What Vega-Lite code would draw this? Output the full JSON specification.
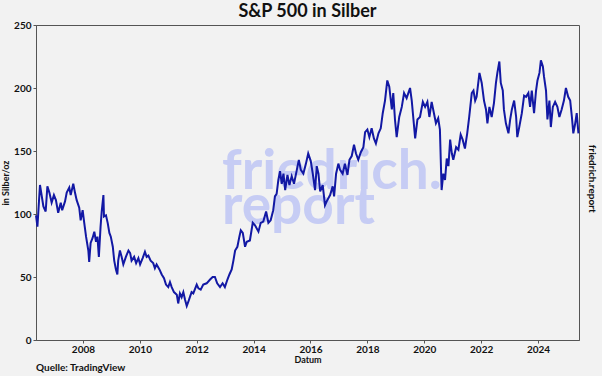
{
  "$schema": "https://vega.github.io/schema/vega-lite/v6.json",
  "width": 543,
  "height": 315,
  "autosize": {"type": "none"},
  "padding": {"left": 36, "top": 25, "right": 23, "bottom": 36},
  "background": "#f2f2f2",
  "config": {
    "view": {"stroke": "#555555", "strokeWidth": 1},
    "font": "Lato",
    "axis": {"labelFont": "Lato", "labelFontWeight": "bold", "labelFontSize": 10, "labelColor": "#111", "titleFont": "Lato", "titleFontWeight": "bold", "titleFontSize": 9, "titleColor": "#111", "domainColor": "#555", "tickColor": "#555", "grid": false}
  },
  "title": {"text": "S&P 500 in Silber", "fontSize": 18, "fontWeight": "bold", "font": "Lato", "color": "#111", "anchor": "middle", "offset": -1},
  "datasets": {
    "ratio": [
      {"jahr": 2006.35, "wert": 99}, {"jahr": 2006.40, "wert": 90}, {"jahr": 2006.49, "wert": 123}, {"jahr": 2006.61, "wert": 106},
      {"jahr": 2006.69, "wert": 102}, {"jahr": 2006.75, "wert": 122}, {"jahr": 2006.82, "wert": 117}, {"jahr": 2006.90, "wert": 109},
      {"jahr": 2006.98, "wert": 115}, {"jahr": 2007.05, "wert": 111}, {"jahr": 2007.13, "wert": 101}, {"jahr": 2007.22, "wert": 109},
      {"jahr": 2007.27, "wert": 103}, {"jahr": 2007.37, "wert": 110}, {"jahr": 2007.43, "wert": 117}, {"jahr": 2007.52, "wert": 121},
      {"jahr": 2007.57, "wert": 115}, {"jahr": 2007.66, "wert": 124}, {"jahr": 2007.72, "wert": 117}, {"jahr": 2007.78, "wert": 111},
      {"jahr": 2007.87, "wert": 105}, {"jahr": 2007.92, "wert": 95}, {"jahr": 2007.99, "wert": 103}, {"jahr": 2008.04, "wert": 94},
      {"jahr": 2008.11, "wert": 82}, {"jahr": 2008.19, "wert": 71}, {"jahr": 2008.22, "wert": 62}, {"jahr": 2008.27, "wert": 77},
      {"jahr": 2008.34, "wert": 81}, {"jahr": 2008.40, "wert": 86}, {"jahr": 2008.46, "wert": 78}, {"jahr": 2008.51, "wert": 82},
      {"jahr": 2008.56, "wert": 66}, {"jahr": 2008.62, "wert": 90}, {"jahr": 2008.66, "wert": 102}, {"jahr": 2008.72, "wert": 115},
      {"jahr": 2008.74, "wert": 98}, {"jahr": 2008.81, "wert": 99}, {"jahr": 2008.87, "wert": 93}, {"jahr": 2008.93, "wert": 85},
      {"jahr": 2008.98, "wert": 82}, {"jahr": 2009.05, "wert": 74}, {"jahr": 2009.10, "wert": 63}, {"jahr": 2009.16, "wert": 56},
      {"jahr": 2009.21, "wert": 52}, {"jahr": 2009.24, "wert": 63}, {"jahr": 2009.30, "wert": 71}, {"jahr": 2009.36, "wert": 66},
      {"jahr": 2009.42, "wert": 60}, {"jahr": 2009.51, "wert": 66}, {"jahr": 2009.60, "wert": 71}, {"jahr": 2009.66, "wert": 69},
      {"jahr": 2009.71, "wert": 63}, {"jahr": 2009.80, "wert": 66}, {"jahr": 2009.87, "wert": 61}, {"jahr": 2009.95, "wert": 65},
      {"jahr": 2010.01, "wert": 60}, {"jahr": 2010.10, "wert": 65}, {"jahr": 2010.18, "wert": 70}, {"jahr": 2010.24, "wert": 66},
      {"jahr": 2010.30, "wert": 67}, {"jahr": 2010.38, "wert": 63}, {"jahr": 2010.47, "wert": 61}, {"jahr": 2010.53, "wert": 57},
      {"jahr": 2010.59, "wert": 60}, {"jahr": 2010.69, "wert": 56}, {"jahr": 2010.77, "wert": 52}, {"jahr": 2010.85, "wert": 49},
      {"jahr": 2010.92, "wert": 44}, {"jahr": 2011.00, "wert": 42}, {"jahr": 2011.06, "wert": 46}, {"jahr": 2011.12, "wert": 42},
      {"jahr": 2011.20, "wert": 38}, {"jahr": 2011.30, "wert": 36}, {"jahr": 2011.35, "wert": 29}, {"jahr": 2011.41, "wert": 37},
      {"jahr": 2011.47, "wert": 34}, {"jahr": 2011.53, "wert": 38}, {"jahr": 2011.59, "wert": 32}, {"jahr": 2011.65, "wert": 27},
      {"jahr": 2011.70, "wert": 30}, {"jahr": 2011.76, "wert": 34}, {"jahr": 2011.82, "wert": 38}, {"jahr": 2011.88, "wert": 37},
      {"jahr": 2012.00, "wert": 44}, {"jahr": 2012.06, "wert": 41}, {"jahr": 2012.14, "wert": 40}, {"jahr": 2012.23, "wert": 44},
      {"jahr": 2012.35, "wert": 45}, {"jahr": 2012.47, "wert": 48}, {"jahr": 2012.56, "wert": 50}, {"jahr": 2012.64, "wert": 50},
      {"jahr": 2012.72, "wert": 45}, {"jahr": 2012.82, "wert": 42}, {"jahr": 2012.91, "wert": 45}, {"jahr": 2012.99, "wert": 42},
      {"jahr": 2013.08, "wert": 48}, {"jahr": 2013.15, "wert": 52}, {"jahr": 2013.23, "wert": 56}, {"jahr": 2013.29, "wert": 63},
      {"jahr": 2013.35, "wert": 71}, {"jahr": 2013.43, "wert": 74}, {"jahr": 2013.50, "wert": 82}, {"jahr": 2013.55, "wert": 87},
      {"jahr": 2013.62, "wert": 85}, {"jahr": 2013.70, "wert": 74}, {"jahr": 2013.76, "wert": 78}, {"jahr": 2013.87, "wert": 79},
      {"jahr": 2013.97, "wert": 93}, {"jahr": 2014.05, "wert": 91}, {"jahr": 2014.17, "wert": 86}, {"jahr": 2014.25, "wert": 93},
      {"jahr": 2014.34, "wert": 94}, {"jahr": 2014.44, "wert": 102}, {"jahr": 2014.52, "wert": 93}, {"jahr": 2014.60, "wert": 95},
      {"jahr": 2014.69, "wert": 103}, {"jahr": 2014.75, "wert": 114}, {"jahr": 2014.81, "wert": 116}, {"jahr": 2014.87, "wert": 127},
      {"jahr": 2014.93, "wert": 134}, {"jahr": 2014.99, "wert": 124}, {"jahr": 2015.05, "wert": 132}, {"jahr": 2015.11, "wert": 119},
      {"jahr": 2015.19, "wert": 131}, {"jahr": 2015.26, "wert": 123}, {"jahr": 2015.34, "wert": 130}, {"jahr": 2015.42, "wert": 124},
      {"jahr": 2015.52, "wert": 135}, {"jahr": 2015.59, "wert": 143}, {"jahr": 2015.66, "wert": 135}, {"jahr": 2015.75, "wert": 132},
      {"jahr": 2015.84, "wert": 140}, {"jahr": 2015.92, "wert": 148}, {"jahr": 2016.01, "wert": 142}, {"jahr": 2016.08, "wert": 132},
      {"jahr": 2016.16, "wert": 119}, {"jahr": 2016.22, "wert": 138}, {"jahr": 2016.28, "wert": 132}, {"jahr": 2016.34, "wert": 118},
      {"jahr": 2016.43, "wert": 123}, {"jahr": 2016.51, "wert": 107}, {"jahr": 2016.59, "wert": 111}, {"jahr": 2016.69, "wert": 115},
      {"jahr": 2016.78, "wert": 122}, {"jahr": 2016.83, "wert": 114}, {"jahr": 2016.90, "wert": 132}, {"jahr": 2016.98, "wert": 140},
      {"jahr": 2017.04, "wert": 135}, {"jahr": 2017.13, "wert": 132}, {"jahr": 2017.21, "wert": 140}, {"jahr": 2017.30, "wert": 131},
      {"jahr": 2017.37, "wert": 143}, {"jahr": 2017.45, "wert": 146}, {"jahr": 2017.53, "wert": 155}, {"jahr": 2017.60, "wert": 148},
      {"jahr": 2017.68, "wert": 143}, {"jahr": 2017.77, "wert": 149}, {"jahr": 2017.86, "wert": 153}, {"jahr": 2017.92, "wert": 165},
      {"jahr": 2018.00, "wert": 167}, {"jahr": 2018.07, "wert": 161}, {"jahr": 2018.15, "wert": 168}, {"jahr": 2018.23, "wert": 160},
      {"jahr": 2018.30, "wert": 156}, {"jahr": 2018.39, "wert": 164}, {"jahr": 2018.47, "wert": 168}, {"jahr": 2018.54, "wert": 180},
      {"jahr": 2018.62, "wert": 190}, {"jahr": 2018.70, "wert": 206}, {"jahr": 2018.77, "wert": 201}, {"jahr": 2018.86, "wert": 183},
      {"jahr": 2018.91, "wert": 196}, {"jahr": 2018.97, "wert": 175}, {"jahr": 2019.03, "wert": 161}, {"jahr": 2019.12, "wert": 177},
      {"jahr": 2019.21, "wert": 185}, {"jahr": 2019.29, "wert": 196}, {"jahr": 2019.38, "wert": 192}, {"jahr": 2019.50, "wert": 200},
      {"jahr": 2019.56, "wert": 190}, {"jahr": 2019.62, "wert": 175}, {"jahr": 2019.68, "wert": 160}, {"jahr": 2019.76, "wert": 175},
      {"jahr": 2019.85, "wert": 177}, {"jahr": 2019.95, "wert": 189}, {"jahr": 2020.03, "wert": 185}, {"jahr": 2020.11, "wert": 189},
      {"jahr": 2020.18, "wert": 177}, {"jahr": 2020.26, "wert": 189}, {"jahr": 2020.34, "wert": 180}, {"jahr": 2020.41, "wert": 172},
      {"jahr": 2020.49, "wert": 176}, {"jahr": 2020.55, "wert": 167}, {"jahr": 2020.61, "wert": 119}, {"jahr": 2020.67, "wert": 132},
      {"jahr": 2020.73, "wert": 127}, {"jahr": 2020.79, "wert": 144}, {"jahr": 2020.85, "wert": 138}, {"jahr": 2020.91, "wert": 159},
      {"jahr": 2020.97, "wert": 148}, {"jahr": 2021.02, "wert": 143}, {"jahr": 2021.12, "wert": 153}, {"jahr": 2021.20, "wert": 151},
      {"jahr": 2021.28, "wert": 163}, {"jahr": 2021.35, "wert": 159}, {"jahr": 2021.43, "wert": 152}, {"jahr": 2021.51, "wert": 164},
      {"jahr": 2021.58, "wert": 177}, {"jahr": 2021.67, "wert": 196}, {"jahr": 2021.73, "wert": 198}, {"jahr": 2021.79, "wert": 190},
      {"jahr": 2021.84, "wert": 193}, {"jahr": 2021.94, "wert": 212}, {"jahr": 2022.02, "wert": 204}, {"jahr": 2022.10, "wert": 190},
      {"jahr": 2022.17, "wert": 183}, {"jahr": 2022.22, "wert": 172}, {"jahr": 2022.29, "wert": 185}, {"jahr": 2022.37, "wert": 177},
      {"jahr": 2022.45, "wert": 188}, {"jahr": 2022.52, "wert": 204}, {"jahr": 2022.57, "wert": 212}, {"jahr": 2022.64, "wert": 221},
      {"jahr": 2022.69, "wert": 204}, {"jahr": 2022.76, "wert": 198}, {"jahr": 2022.80, "wert": 183}, {"jahr": 2022.87, "wert": 172},
      {"jahr": 2022.96, "wert": 164}, {"jahr": 2023.02, "wert": 175}, {"jahr": 2023.08, "wert": 183}, {"jahr": 2023.16, "wert": 190},
      {"jahr": 2023.23, "wert": 177}, {"jahr": 2023.27, "wert": 161}, {"jahr": 2023.34, "wert": 169}, {"jahr": 2023.43, "wert": 180},
      {"jahr": 2023.51, "wert": 194}, {"jahr": 2023.58, "wert": 193}, {"jahr": 2023.66, "wert": 196}, {"jahr": 2023.72, "wert": 185},
      {"jahr": 2023.78, "wert": 198}, {"jahr": 2023.86, "wert": 180}, {"jahr": 2023.93, "wert": 198}, {"jahr": 2023.98, "wert": 206},
      {"jahr": 2024.05, "wert": 212}, {"jahr": 2024.10, "wert": 222}, {"jahr": 2024.17, "wert": 217}, {"jahr": 2024.21, "wert": 209},
      {"jahr": 2024.28, "wert": 198}, {"jahr": 2024.33, "wert": 175}, {"jahr": 2024.40, "wert": 190}, {"jahr": 2024.45, "wert": 169},
      {"jahr": 2024.52, "wert": 185}, {"jahr": 2024.60, "wert": 189}, {"jahr": 2024.68, "wert": 185}, {"jahr": 2024.75, "wert": 177},
      {"jahr": 2024.83, "wert": 183}, {"jahr": 2024.91, "wert": 190}, {"jahr": 2024.98, "wert": 200}, {"jahr": 2025.06, "wert": 193},
      {"jahr": 2025.13, "wert": 190}, {"jahr": 2025.19, "wert": 177}, {"jahr": 2025.24, "wert": 164}, {"jahr": 2025.30, "wert": 171},
      {"jahr": 2025.36, "wert": 180}, {"jahr": 2025.42, "wert": 164}
    ]
  },
  "layer": [
    {
      "data": {"values": [{"label": "friedrich."}]},
      "mark": {"type": "text", "align": "left", "baseline": "alphabetic", "fontSize": 55, "fontWeight": "bold", "font": "Lato", "color": "#c6ccf4"},
      "encoding": {
        "x": {"datum": 2012.89, "type": "quantitative"},
        "y": {"datum": 119.8, "type": "quantitative"},
        "text": {"field": "label"}
      }
    },
    {
      "data": {"values": [{"label": "report"}]},
      "mark": {"type": "text", "align": "left", "baseline": "alphabetic", "fontSize": 55, "fontWeight": "bold", "font": "Lato", "color": "#c6ccf4"},
      "encoding": {
        "x": {"datum": 2012.89, "type": "quantitative"},
        "y": {"datum": 92, "type": "quantitative"},
        "text": {"field": "label"}
      }
    },
    {
      "data": {"name": "ratio"},
      "mark": {"type": "line", "color": "#1218a4", "strokeWidth": 2, "interpolate": "linear"},
      "encoding": {
        "x": {
          "field": "jahr", "type": "quantitative",
          "scale": {"domain": [2006.35, 2025.44], "nice": false, "zero": false},
          "axis": {"values": [2008, 2010, 2012, 2014, 2016, 2018, 2020, 2022, 2024], "format": "d", "title": "Datum", "tickSize": 3, "labelPadding": 1, "titlePadding": 1, "labelFlush": false}
        },
        "y": {
          "field": "wert", "type": "quantitative",
          "scale": {"domain": [0, 250], "nice": false},
          "axis": {"values": [0, 50, 100, 150, 200, 250], "title": "in Silber/oz", "tickSize": 3, "labelPadding": 2, "titlePadding": 3}
        }
      }
    },
    {
      "data": {"values": [{"label": "friedrich.report"}]},
      "mark": {"type": "text", "align": "center", "baseline": "middle", "angle": 90, "fontSize": 10, "fontWeight": "bold", "font": "Lato", "color": "#111"},
      "encoding": {
        "x": {"datum": 2025.9, "type": "quantitative"},
        "y": {"datum": 128, "type": "quantitative"},
        "text": {"field": "label"}
      }
    },
    {
      "data": {"values": [{"label": "Quelle: TradingView"}]},
      "mark": {"type": "text", "align": "left", "baseline": "alphabetic", "fontSize": 10, "fontWeight": "bold", "font": "Lato", "color": "#111"},
      "encoding": {
        "x": {"datum": 2006.35, "type": "quantitative"},
        "y": {"datum": -24.5, "type": "quantitative"},
        "text": {"field": "label"}
      }
    }
  ]
}
